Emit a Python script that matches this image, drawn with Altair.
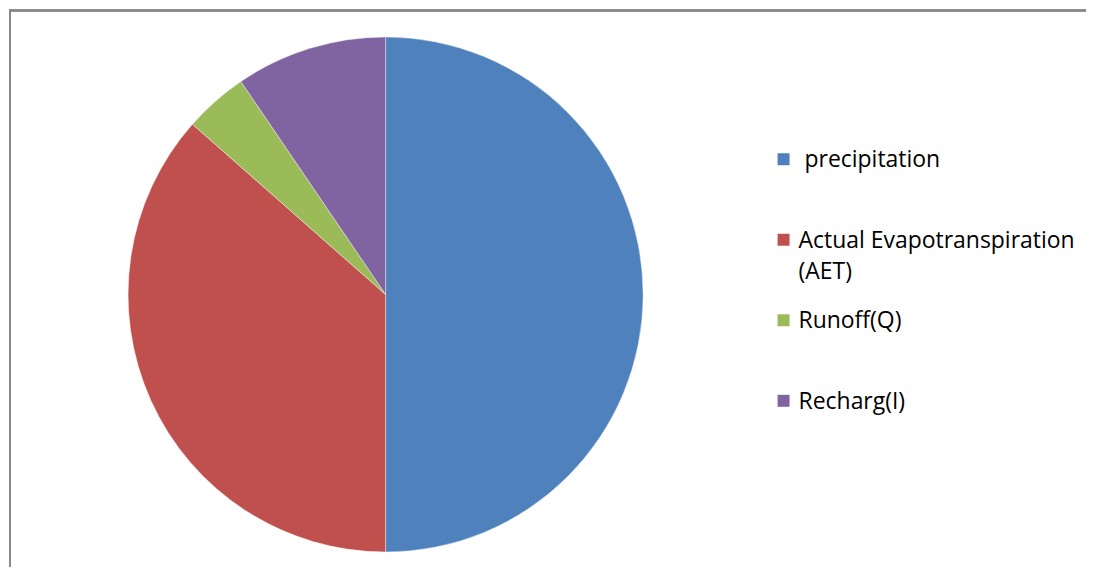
import altair as alt
import pandas as pd

# ---- data ----
categories = ["precipitation", "Actual Evapotranspiration (AET)", "Runoff(Q)", "Recharg(I)"]
values = [1000, 730, 80, 190]
legend_labels = ["\u200b precipitation", "Actual Evapotranspiration\n(AET)", "Runoff(Q)", "Recharg(I)"]
colors = ["#4F81BD", "#C0504D", "#9BBB59", "#8064A2"]

df = pd.DataFrame({
    "category": categories,
    "value": values,
    "order": list(range(len(categories))),
})
leg = pd.DataFrame({
    "category": categories,
    "label": legend_labels,
    "row": list(range(len(categories))),
})

W, H = 1079, 558
color_scale = alt.Scale(domain=categories, range=colors)

pie = alt.Chart(df).mark_arc(radius=258, stroke="#ffffff", strokeWidth=0.4).encode(
    theta=alt.Theta("value:Q", stack=True),
    color=alt.Color("category:N", scale=color_scale, legend=None),
    order=alt.Order("order:Q"),
    x=alt.value(377.3),
    y=alt.value(285.5),
)

row_y = alt.Y("row:Q", scale=alt.Scale(domain=[0, 3], range=[150, 392]), axis=None)

leg_sym = alt.Chart(leg).mark_square(size=144, opacity=1, filled=True).encode(
    x=alt.value(776),
    y=row_y,
    color=alt.Color("category:N", scale=color_scale, legend=None),
)

leg_txt = alt.Chart(leg).mark_text(
    align="left", baseline="alphabetic", dy=8, font="Open Sans", fontSize=23,
    lineBreak="\n", lineHeight=31, color="#000000",
).encode(
    x=alt.value(791),
    y=row_y,
    text="label:N",
)

# chart-area frame: only the top and left edges are visible in the reference
frame_top = alt.Chart(leg).mark_rule(color="#888888", strokeWidth=2).encode(
    x=alt.value(0), x2=alt.value(W), y=alt.value(1),
)
frame_left = alt.Chart(leg).mark_rule(color="#888888", strokeWidth=2).encode(
    x=alt.value(1), y=alt.value(0), y2=alt.value(H),
)

chart = alt.layer(frame_top, frame_left, pie, leg_sym, leg_txt).properties(
    width=W, height=H, padding=0, background="#ffffff",
).configure_view(stroke="transparent", strokeWidth=0)

chart.save("out.html", embed_options={"renderer": "svg", "actions": False})
